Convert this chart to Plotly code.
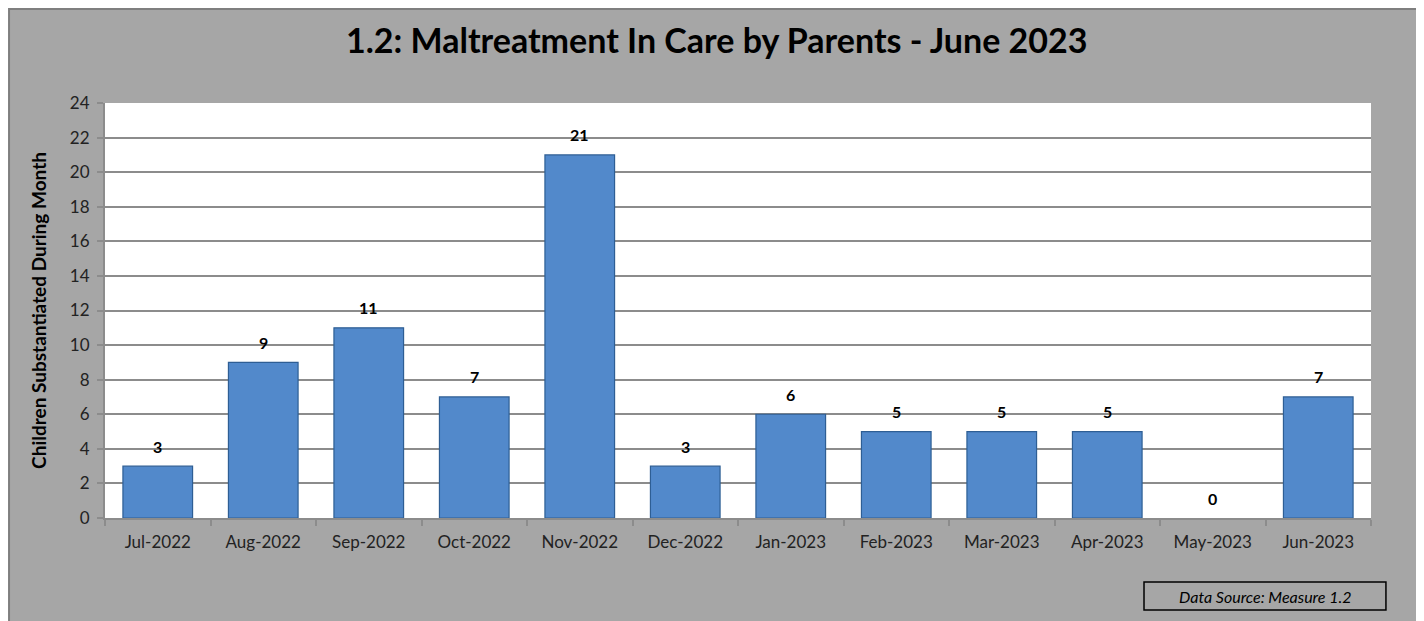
import plotly.graph_objects as go

months = ["Jul-2022", "Aug-2022", "Sep-2022", "Oct-2022", "Nov-2022", "Dec-2022",
          "Jan-2023", "Feb-2023", "Mar-2023", "Apr-2023", "May-2023", "Jun-2023"]
counts = [3, 9, 11, 7, 21, 3, 6, 5, 5, 5, 0, 7]
y_ticks = list(range(0, 25, 2))

title_text = "1.2: Maltreatment In Care by Parents - June 2023"
y_title = "Children Substantiated During Month"
source_text = "Data Source: Measure 1.2"

FONT = "Lato, 'Open Sans', sans-serif"

fig = go.Figure()
fig.add_trace(go.Bar(
    x=months, y=counts,
    marker=dict(color="#5289CB",
                line=dict(color="#2E5E94", width=[0 if c == 0 else 1.2 for c in counts])),
    width=0.66,
    hoverinfo="x+y",
))

annotations = []
for m, c in zip(months, counts):
    annotations.append(dict(x=m, y=c, text=f"<b>{c}</b>", showarrow=False,
                            yshift=20, font=dict(family=FONT, size=16, color="#000000")))

annotations.append(dict(xref="paper", yref="paper", x=0.4834, y=1.152,
                        text=f"<b>{title_text}</b>", showarrow=False,
                        font=dict(family=FONT, size=34, color="#000000"),
                        xanchor="center", yanchor="middle"))
annotations.append(dict(xref="paper", yref="paper", x=0.9163, y=-0.188,
                        text=f"<i>{source_text}</i>", showarrow=False,
                        font=dict(family=FONT, size=16, color="#000000"),
                        xanchor="center", yanchor="middle"))

shapes = [
    dict(type="rect", xref="paper", yref="paper", x0=-0.0758, x1=1.0371, y0=-0.27, y1=1.2265,
         fillcolor="#A6A6A6", line=dict(color="#7F7F7F", width=2), layer="below"),
    dict(type="rect", xref="paper", yref="paper", x0=0, x1=1, y0=0, y1=1,
         fillcolor="#FFFFFF", line=dict(width=0), layer="below"),
    dict(type="rect", xref="paper", yref="paper", x0=0.8207, x1=1.0118, y0=-0.2217, y1=-0.154,
         fillcolor="rgba(0,0,0,0)", line=dict(color="#000000", width=1.5), layer="above"),
]

fig.update_layout(
    width=1416, height=613,
    margin=dict(l=97, r=53, t=95, b=103),
    paper_bgcolor="#FFFFFF",
    plot_bgcolor="rgba(0,0,0,0)",
    showlegend=False,
    annotations=annotations,
    shapes=shapes,
    font=dict(family=FONT, color="#222222"),
)
fig.update_xaxes(
    type="category", tickson="boundaries", ticks="outside", ticklen=6,
    tickcolor="#8C8C8C", tickwidth=2, ticklabelstandoff=8,
    showline=True, linecolor="#8C8C8C", linewidth=2,
    showgrid=False, tickfont=dict(family=FONT, size=17, color="#222222"),
)
fig.update_yaxes(
    range=[0, 24], tickvals=y_ticks, ticks="outside", ticklen=6,
    tickcolor="#8C8C8C", tickwidth=2, ticklabelstandoff=4,
    showline=True, linecolor="#8C8C8C", linewidth=2,
    showgrid=True, gridcolor="#8C8C8C", gridwidth=2, zeroline=False,
    tickfont=dict(family=FONT, size=17, color="#222222"),
    title=dict(text=f"<b>{y_title}</b>", font=dict(family=FONT, size=19, color="#000000"),
               standoff=18),
)

fig.write_html("out.html")
